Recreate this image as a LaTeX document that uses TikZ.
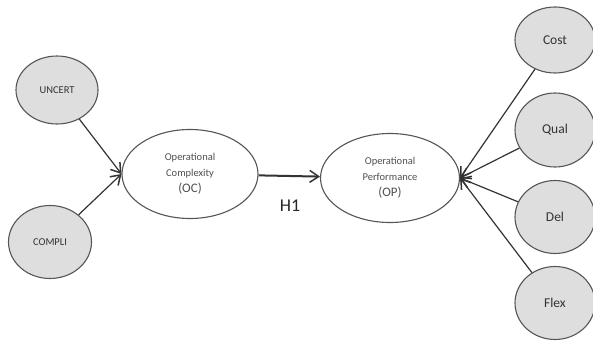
\documentclass[tikz,border=0pt]{standalone}
\usepackage{fontspec}
\setmainfont{Carlito}
\usetikzlibrary{shapes.geometric,arrows.meta}
\definecolor{edgegray}{RGB}{85,85,85}
\definecolor{fillgray}{RGB}{222,222,222}
\definecolor{textgray}{RGB}{80,80,80}
\tikzset{
	factor/.style={ellipse,draw=edgegray,line width=1.1pt,fill=fillgray,inner sep=0pt,text=black!80},
	construct/.style={ellipse,draw=edgegray,line width=1.1pt,fill=white,inner sep=0pt,align=center,text=textgray,font=\fontsize{10.5}{16}\selectfont},
	link/.style={-{Straight Barb[length=9pt,width=12pt,line width=1.5pt]},line width=1.2pt,draw=black!80}
}
\begin{document}
\begin{tikzpicture}[x=1pt,y=-1pt]
			\useasboundingbox (0,0) rectangle (593,342);
			% left side
			\node[factor,minimum width=82pt,minimum height=68pt,font=\fontsize{10.5}{12}\selectfont] (uncert) at (57,90) {UNCERT};
			\node[factor,minimum width=83pt,minimum height=73pt,font=\fontsize{10.5}{12}\selectfont] (compli) at (50,242) {COMPLI};
			% the two constructs
			\node[construct,minimum width=136pt,minimum height=89pt] (oc) at (190,174) {Operational\\Complexity\\{\fontsize{13}{16}\selectfont (OC)}};
			\node[construct,minimum width=139pt,minimum height=89pt] (op) at (390,178) {Operational\\Performance\\{\fontsize{13}{16}\selectfont (OP)}};
			% right side
			\node[factor,minimum width=80pt,minimum height=66pt,font=\fontsize{13.5}{16}\selectfont] (cost) at (555,40) {Cost};
			\node[factor,minimum width=80pt,minimum height=74pt,font=\fontsize{13.5}{16}\selectfont] (qual) at (555,130) {Qual};
			\node[factor,minimum width=80pt,minimum height=73pt,font=\fontsize{13.5}{16}\selectfont] (del) at (555,217) {Del};
			\node[factor,minimum width=80pt,minimum height=73pt,font=\fontsize{13.5}{16}\selectfont] (flex) at (555,303) {Flex};
			\node[font=\fontsize{18}{20}\selectfont,text=black!85] (h1) at (290,206) {H1};
			% arrows
			\draw[link] (uncert) -- (oc.west);
			\draw[link] (compli) -- (oc.west);
			\draw[link,line width=2pt] (oc) -- (op);
			\draw[link] (cost) -- (op.east);
			\draw[link] (qual) -- (op.east);
			\draw[link] (del) -- (op.east);
			\draw[link] (flex) -- (op.east);
\end{tikzpicture}
\end{document}
